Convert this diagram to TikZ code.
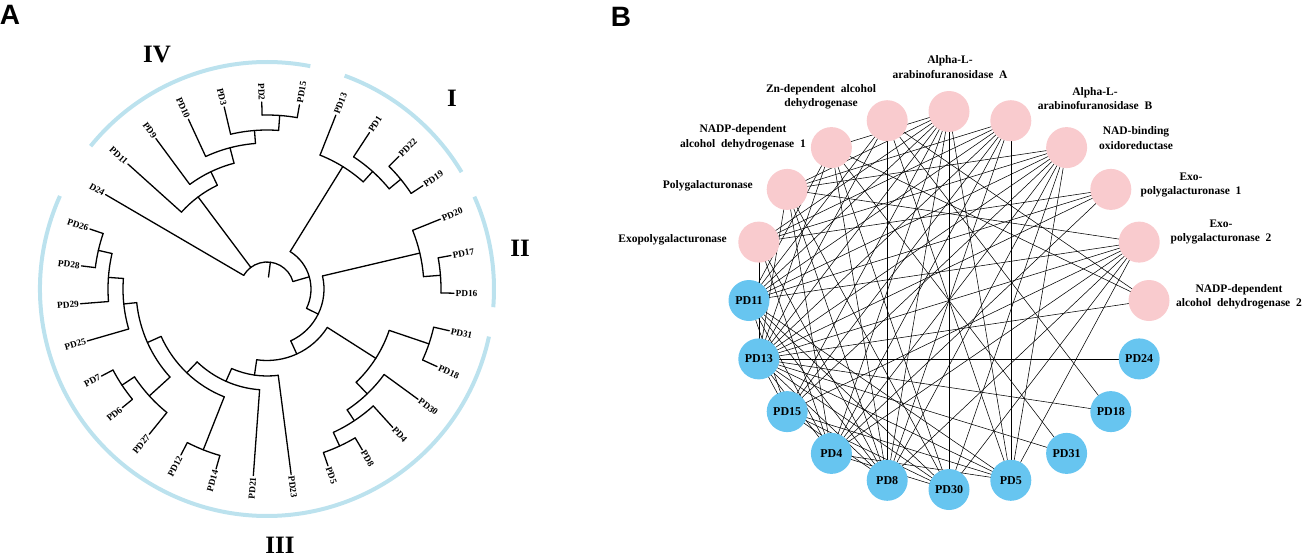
\documentclass[tikz,border=0pt]{standalone}
\usepackage{fontspec}
\setmainfont{Liberation Serif}
\newfontfamily\arialfont{Liberation Sans}
\pgfdeclarelayer{bg}
\pgfsetlayers{bg,main}
\definecolor{pinkn}{RGB}{249,203,206}
\definecolor{bluen}{RGB}{103,197,240}
\definecolor{cladec}{RGB}{188,226,238}
\newcommand\tbr[3]{\draw[treeline] (#1:#2) -- (#1:#3);}
\newcommand\tarc[3]{\draw[treeline] (#2:#1) arc[start angle=#2, end angle=#3, radius=#1];}
\newcommand\labR[3]{\node[tlab, rotate=#1, anchor=west] (#2) at (#1:188) {#3};}
\newcommand\labL[3]{\node[tlab, rotate={#1+180}, anchor=east] (#2) at (#1:188) {#3};}
\begin{document}
\begin{tikzpicture}[x=1pt,y=-1pt,
  treeline/.style={line width=1.3pt, black, line cap=round},
  cladearc/.style={line width=4pt, cladec},
  tlab/.style={font=\fontsize{9.3}{10}\selectfont\bfseries, inner sep=0.6pt},
  roman/.style={font=\fontsize{25}{25}\selectfont\bfseries},
  panel/.style={font=\arialfont\fontsize{28}{28}\selectfont\bfseries},
  pnode/.style={circle, fill=pinkn, minimum size=41pt, inner sep=0pt},
  bnode/.style={circle, fill=bluen, minimum size=41pt, inner sep=0pt, font=\fontsize{12}{12}\selectfont\bfseries},
  plab/.style={font=\fontsize{11.5}{14.5}\selectfont\bfseries, align=center, inner sep=0pt},
  netline/.style={line width=0.55pt, black}]
\useasboundingbox (0,0) rectangle (1303,557);
\node[panel] (pA) at (10,15) {A};
\node[panel] (pB) at (621,17) {B};
% ---------- Panel A: circular tree ----------
\begin{scope}[shift={(267,289)}, yscale=-1]
% clade arcs
\draw[cladearc] (79:227) arc[start angle=79, end angle=141, radius=227];
\draw[cladearc] (31:227) arc[start angle=31, end angle=70, radius=227];
\draw[cladearc] (-4.6:227) arc[start angle=-4.6, end angle=24, radius=227];
\draw[cladearc] (155.8:227) arc[start angle=155.8, end angle=347.9, radius=227];
% root
\tbr{82.88}{12}{27} \tarc{27}{16.08}{149.68}
\tbr{149.68}{27}{187}
% clade IV
\tbr{126.81}{27}{115} \tarc{115}{115.57}{138.06}
\tbr{138.06}{115}{187}
\tbr{115.57}{115}{130} \tarc{130}{104.68}{126.45}
\tbr{126.45}{130}{187}
\tbr{104.68}{130}{146} \tarc{146}{94.52}{114.84}
\tbr{114.84}{146}{187}
\tbr{94.52}{146}{159} \tarc{159}{85.81}{103.23}
\tbr{103.23}{159}{187}
\tbr{85.81}{159}{174} \tarc{174}{80}{91.61}
\tbr{91.61}{174}{187} \tbr{80}{174}{187}
% N44
\tbr{16.08}{27}{44} \tarc{44}{-26.08}{58.23}
% clade I
\tbr{58.23}{44}{144} \tarc{144}{48.06}{68.39}
\tbr{68.39}{144}{187}
\tbr{48.06}{144}{158} \tarc{158}{39.36}{56.77}
\tbr{56.77}{158}{187}
\tbr{39.36}{158}{173} \tarc{173}{33.55}{45.16}
\tbr{45.16}{173}{187} \tbr{33.55}{173}{187}
% N57
\tbr{-26.08}{44}{57} \tarc{57}{-65.39}{13.23}
% clade II
\tbr{13.23}{57}{157} \tarc{157}{4.52}{21.94}
\tbr{21.94}{157}{187}
\tbr{4.52}{157}{174} \tarc{174}{-1.29}{10.32}
\tbr{10.32}{174}{187} \tbr{-1.29}{174}{187}
% clade III
\tbr{-65.39}{57}{71.5} \tarc{71.5}{-98.28}{-32.5}
\tbr{-32.5}{71.5}{129} \tarc{129}{-46.29}{-18.71}
\tbr{-18.71}{129}{171} \tarc{171}{-24.52}{-12.90}
\tbr{-12.90}{171}{187} \tbr{-24.52}{171}{187}
\tbr{-46.29}{129}{145} \tarc{145}{-56.45}{-36.13}
\tbr{-36.13}{145}{187}
\tbr{-56.45}{145}{158} \tarc{158}{-65.17}{-47.74}
\tbr{-47.74}{158}{187}
\tbr{-65.17}{158}{173} \tarc{173}{-70.97}{-59.36}
\tbr{-59.36}{173}{187} \tbr{-70.97}{173}{187}
\tbr{-98.28}{71.5}{87} \tarc{87}{-113.98}{-82.58}
\tbr{-82.58}{87}{187}
\tbr{-113.98}{87}{101} \tarc{101}{-133.76}{-94.19}
\tbr{-94.19}{101}{187}
\tbr{-133.76}{101}{116} \tarc{116}{-155.89}{-111.62}
\tbr{-111.62}{116}{173} \tarc{173}{-117.42}{-105.81}
\tbr{-117.42}{173}{187} \tbr{-105.81}{173}{187}
\tbr{-155.89}{116}{131} \tarc{131}{-174.03}{-137.75}
\tbr{-137.75}{131}{159} \tarc{159}{-146.46}{-129.03}
\tbr{-129.03}{159}{187}
\tbr{-146.46}{159}{174} \tarc{174}{-152.26}{-140.65}
\tbr{-152.26}{174}{187} \tbr{-140.65}{174}{187}
\tbr{-174.03}{131}{144} \tarc{144}{-184.19}{-163.87}
\tbr{-163.87}{144}{187}
\tbr{-184.19}{144}{159} \tarc{159}{-192.9}{-175.48}
\tbr{-175.48}{159}{187}
\tbr{-192.9}{159}{173} \tarc{173}{-198.71}{-187.10}
\tbr{-187.10}{173}{187} \tbr{-198.71}{173}{187}
% leaf labels
\labR{80}{tPD15}{PD15} \labR{68.39}{tPD13}{PD13} \labR{56.77}{tPD1}{PD1}
\labR{45.16}{tPD22}{PD22} \labR{33.55}{tPD19}{PD19} \labR{21.94}{tPD20}{PD20}
\labR{10.32}{tPD17}{PD17} \labR{-1.29}{tPD16}{PD16} \labR{-12.90}{tPD31}{PD31}
\labR{-24.52}{tPD18}{PD18} \labR{-36.13}{tPD30}{PD30} \labR{-47.74}{tPD4}{PD4}
\labR{-59.36}{tPD8}{PD8} \labR{-70.97}{tPD5}{PD5} \labR{-82.58}{tPD23}{PD23}
\labL{-94.19}{tPD21}{PD21} \labL{-105.81}{tPD14}{PD14} \labL{-117.42}{tPD12}{PD12}
\labL{-129.03}{tPD27}{PD27} \labL{-140.65}{tPD6}{PD6} \labL{-152.26}{tPD7}{PD7}
\labL{-163.87}{tPD25}{PD25} \labL{-175.48}{tPD29}{PD29} \labL{-187.10}{tPD28}{PD28}
\labL{-198.71}{tPD26}{PD26} \labL{-210.32}{tPD24}{D24} \labL{-221.94}{tPD11}{PD11}
\labL{-233.55}{tPD9}{PD9} \labL{-245.16}{tPD10}{PD10} \labL{-256.77}{tPD3}{PD3}
\labL{-268.39}{tPD2}{PD2}
\end{scope}
\node[roman] (cIV) at (157,55) {IV};
\node[roman] (cI) at (452,98) {I};
\node[roman] (cII) at (520,248) {II};
\node[roman] (cIII) at (280,545) {III};
% ---------- Panel B: network ----------
\node[pnode] (A) at (949,111.5) {};
\node[pnode] (B) at (1010.8,120.7) {};
\node[pnode] (NAD) at (1066.6,147.6) {};
\node[pnode] (E1) at (1110.8,189.4) {};
\node[pnode] (E2) at (1139.2,242.1) {};
\node[pnode] (N2) at (1149,300.5) {};
\node[bnode] (PD24) at (1139.2,358.9) {PD24};
\node[bnode] (PD18) at (1110.8,411.6) {PD18};
\node[bnode] (PD31) at (1066.6,453.4) {PD31};
\node[bnode] (PD5) at (1010.8,480.3) {PD5};
\node[bnode] (PD30) at (949,489.5) {PD30};
\node[bnode] (PD8) at (887.2,480.3) {PD8};
\node[bnode] (PD4) at (831.4,453.4) {PD4};
\node[bnode] (PD15) at (787.2,411.6) {PD15};
\node[bnode] (PD13) at (758.8,358.9) {PD13};
\node[bnode] (PD11) at (749,300.5) {PD11};
\node[pnode] (X) at (758.8,242.1) {};
\node[pnode] (P) at (787.2,189.4) {};
\node[pnode] (N1) at (831.4,147.6) {};
\node[pnode] (Zn) at (887.2,120.7) {};
% labels
\node[plab] (lA) at (950,67) {Alpha-L-\\arabinofuranosidase~ A};
\node[plab] (lB) at (1095,98.5) {Alpha-L-\\arabinofuranosidase~ B};
\node[plab] (lNAD) at (1136,138) {NAD-binding\\oxidoreductase};
\node[plab] (lE1) at (1191,185) {Exo-\\polygalacturonase~ 1};
\node[plab] (lE2) at (1221,232) {Exo-\\polygalacturonase~ 2};
\node[plab] (lN2) at (1239,297) {NADP-dependent\\alcohol~ dehydrogenase~ 2};
\node[plab] (lZn) at (821,97) {Zn-dependent~ alcohol\\dehydrogenase};
\node[plab] (lN1) at (743,137.5) {NADP-dependent\\alcohol~ dehydrogenase~ 1};
\node[plab, anchor=east] (lP) at (753,186) {Polygalacturonase};
\node[plab, anchor=east] (lX) at (727,240) {Exopolygalacturonase};
\begin{pgfonlayer}{bg}
\foreach \a/\b in {PD13/X, PD13/P, PD13/N1, PD13/Zn, PD13/A, PD13/B, PD13/NAD, PD13/E1, PD13/E2, PD13/N2, PD13/PD24, PD13/PD18, PD13/PD31, PD13/PD5, PD13/PD30, PD13/PD8, PD13/PD4, PD13/PD15,
PD11/PD4, PD11/PD8, PD11/PD30, PD11/PD5, PD11/PD15, PD11/A, PD11/B, PD11/NAD, PD11/E2, PD11/Zn, PD11/N1, PD11/E1,
PD15/PD8, PD15/PD30, PD15/PD5, PD15/A, PD15/B, PD15/NAD, PD15/E2,
PD4/X, PD4/P, PD4/A, PD4/B, PD4/NAD, PD4/E1, PD4/E2, PD4/PD30, PD4/PD5,
PD8/X, PD8/P, PD8/N1, PD8/Zn, PD8/A, PD8/B, PD8/NAD, PD8/E2,
PD30/A, PD30/NAD, PD30/E2, PD30/P, PD30/N1,
PD5/B, PD5/NAD, PD5/E2, PD5/A, PD5/Zn,
PD31/N1, PD18/Zn,
A/X, A/P, A/N1, B/X, B/P, NAD/P, NAD/X, P/E2, X/E1, N2/Zn, N2/N1}
  \draw[netline] (\a.center) -- (\b.center);
\end{pgfonlayer}
\end{tikzpicture}
\end{document}
